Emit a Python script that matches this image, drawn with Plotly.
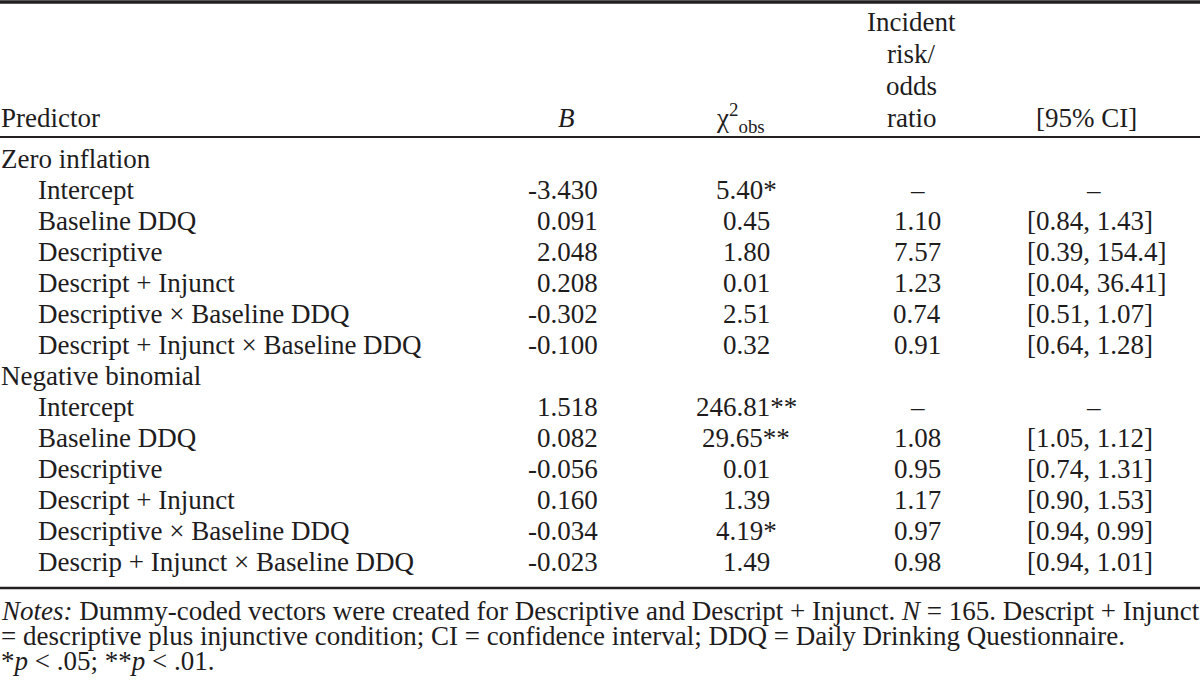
import plotly.graph_objects as go

# ---------------- data ----------------
sections = ["Zero inflation", "Negative binomial"]
predictors_zero = [
    "Intercept", "Baseline DDQ", "Descriptive", "Descript + Injunct",
    "Descriptive × Baseline DDQ", "Descript + Injunct × Baseline DDQ",
]
predictors_negbin = [
    "Intercept", "Baseline DDQ", "Descriptive", "Descript + Injunct",
    "Descriptive × Baseline DDQ", "Descrip + Injunct × Baseline DDQ",
]
b_zero = [-3.430, 0.091, 2.048, 0.208, -0.302, -0.100]
b_negbin = [1.518, 0.082, -0.056, 0.160, -0.034, -0.023]
chi2_zero = [5.40, 0.45, 1.80, 0.01, 2.51, 0.32]
chi2_negbin = [246.81, 29.65, 0.01, 1.39, 4.19, 1.49]
sig_zero = ["*", "", "", "", "", ""]
sig_negbin = ["**", "**", "", "", "*", ""]
ratio_zero = [None, 1.10, 7.57, 1.23, 0.74, 0.91]
ratio_negbin = [None, 1.08, 0.95, 1.17, 0.97, 0.98]
ci_low_zero = [None, 0.84, 0.39, 0.04, 0.51, 0.64]
ci_high_zero = [None, 1.43, 154.4, 36.41, 1.07, 1.28]
ci_low_negbin = [None, 1.05, 0.74, 0.90, 0.94, 0.94]
ci_high_negbin = [None, 1.12, 1.31, 1.53, 0.99, 1.01]

header_labels = ["Predictor", "<i>B</i>", "χ<sup>2</sup><sub>obs</sub>", "[95% CI]"]
header_ratio_lines = ["Incident", "risk/", "odds", "ratio"]
notes_lines = [
    "<i>Notes:</i> Dummy-coded vectors were created for Descriptive and Descript + Injunct. <i>N</i> = 165. Descript + Injunct",
    "= descriptive plus injunctive condition; CI = confidence interval; DDQ = Daily Drinking Questionnaire.",
    "*<i>p</i> < .05; **<i>p</i> < .01.",
]

# ---------------- layout constants ----------------
W, H = 1200, 687
FONT = "Liberation Serif, Times New Roman, serif"
FS = 27
TXT = "#1e1c1d"
ROW0, DY = 159, 31
HEAD_Y, HEAD_DY = 118, 32
X_LABEL, X_INDENT = 0, 37
X_B = 599
X_CHI = 746
X_RATIO = 917
X_RATIO_HEAD = 911
X_CI = 1026
X_CI_DASH = 1093
X_CI_HEAD = 1086
NOTE_Y, NOTE_DY = 611, 25
DASH = "–"


def fmt_ci(v):
    return f"{v:.1f}" if v >= 100 else f"{v:.2f}"


annotations = []


def add(x, y, text, anchor="left", size=FS):
    annotations.append(dict(
        x=x, y=y, xref="x", yref="y", text=text, showarrow=False,
        xanchor=anchor, yanchor="middle", borderpad=0,
        font=dict(family=FONT, size=size, color=TXT),
    ))


# header
add(X_LABEL, HEAD_Y, header_labels[0], "left")
add(566, HEAD_Y, header_labels[1], "center")
add(740, HEAD_Y, header_labels[2], "center")
add(X_CI_HEAD, HEAD_Y, header_labels[3], "center")
n_h = len(header_ratio_lines)
for k, line in enumerate(header_ratio_lines):
    add(X_RATIO_HEAD, HEAD_Y - (n_h - 1 - k) * HEAD_DY, line, "center")

# body
blocks = [
    (sections[0], predictors_zero, b_zero, chi2_zero, sig_zero, ratio_zero, ci_low_zero, ci_high_zero),
    (sections[1], predictors_negbin, b_negbin, chi2_negbin, sig_negbin, ratio_negbin, ci_low_negbin, ci_high_negbin),
]
row = 0
for sec, preds, bs, chis, sigs, ratios, lows, highs in blocks:
    y = ROW0 + row * DY
    add(X_LABEL, y, sec, "left")
    row += 1
    for p, b, c, s, r, lo, hi in zip(preds, bs, chis, sigs, ratios, lows, highs):
        y = ROW0 + row * DY
        add(X_INDENT, y, p, "left")
        add(X_B, y, f"{b:.3f}", "right")
        add(X_CHI, y, f"{c:.2f}{s}", "center")
        if r is None:
            add(X_RATIO, y, DASH, "center")
        else:
            add(X_RATIO, y, f"{r:.2f}", "center")
        if lo is None:
            add(X_CI_DASH, y, DASH, "center")
        else:
            add(X_CI, y, f"[{fmt_ci(lo)}, {fmt_ci(hi)}]", "left")
        row += 1

# notes
for k, line in enumerate(notes_lines):
    add(0, NOTE_Y + k * NOTE_DY, line, "left")

# rules
rules = [(2, 3.5), (137, 2.2), (588, 2.6)]
shapes = [dict(type="line", xref="x", yref="y", x0=0, x1=W, y0=yy, y1=yy,
               line=dict(color="#231f20", width=w)) for yy, w in rules]

fig = go.Figure()
fig.add_trace(go.Scatter(x=[0, W], y=[0, H], mode="markers",
                         marker=dict(opacity=0), hoverinfo="skip", showlegend=False))
fig.update_layout(
    width=W, height=H, margin=dict(l=0, r=0, t=0, b=0),
    paper_bgcolor="white", plot_bgcolor="white",
    xaxis=dict(range=[0, W], visible=False, fixedrange=True),
    yaxis=dict(range=[H, 0], visible=False, fixedrange=True),
    annotations=annotations, shapes=shapes, showlegend=False,
)
fig.write_html(
    "out.html",
    config={"displayModeBar": False},
    post_script="document.body.style.margin='0';document.body.style.overflow='hidden';",
)
